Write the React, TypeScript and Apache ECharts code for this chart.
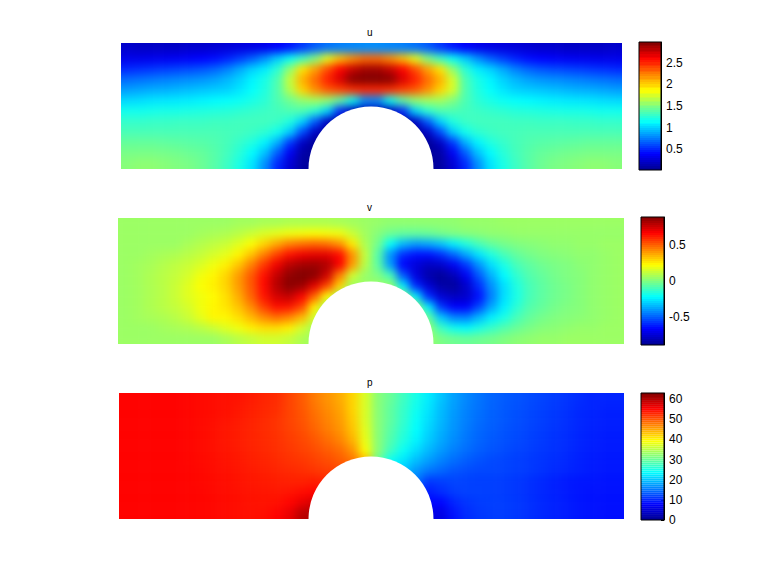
import React, { useEffect, useRef } from "react";
import * as echarts from "echarts";

const jetColors = ["#00008f", "#0000ff", "#0080ff", "#00ffff", "#80ff80", "#ffff00", "#ff8000", "#ff0000", "#800000"];

const uTicks = [0.5, 1, 1.5, 2, 2.5];
const vTicks = [-0.5, 0, 0.5];
const pTicks = [0, 10, 20, 30, 40, 50, 60];
const uRange = [0.02, 2.98];
const vRange = [-0.9, 0.9];
const pRange = [0, 63];

const uValues = [
  [.22,.2,.2,.2,.2,.22,.22,.24,.26,.28,.3,.33,.38,.45,.55,.65,.72,.76,.78,.8,.8,.78,.76,.72,.65,.55,.45,.38,.33,.3,.28,.26,.24,.22,.22,.2,.2,.2,.2,.22],
  [.32,.32,.33,.34,.35,.37,.39,.42,.48,.56,.66,.8,.98,1.15,1.3,1.5,1.8,2.05,2.2,2.3,2.3,2.2,2.05,1.8,1.5,1.3,1.15,.98,.8,.66,.56,.48,.42,.39,.37,.35,.34,.33,.32,.32],
  [.5,.52,.54,.56,.58,.6,.63,.68,.76,.88,1,1.08,1.25,1.55,1.95,2.15,2.4,2.62,2.78,2.88,2.88,2.78,2.62,2.4,2.15,1.95,1.55,1.25,1.08,1,.88,.76,.68,.63,.6,.58,.56,.54,.52,.5],
  [.7,.72,.74,.76,.78,.8,.82,.86,.92,1,1.1,1.2,1.35,1.7,2.1,2.3,2.52,2.72,2.95,3,3,2.95,2.72,2.52,2.3,2.1,1.75,1.35,1.2,1.1,1,.92,.86,.82,.8,.78,.76,.74,.72,.7],
  [.85,.87,.89,.9,.92,.94,.96,.98,1,1.06,1.14,1.22,1.36,1.65,2,2.2,2.35,2.42,2.48,2.5,2.5,2.48,2.42,2.35,2.2,2,1.75,1.36,1.22,1.14,1.06,1,.98,.96,.94,.92,.9,.89,.87,.85],
  [1.02,1.03,1.05,1.06,1.07,1.08,1.1,1.12,1.14,1.16,1.2,1.25,1.35,1.45,1.55,1.6,1.55,1.4,1.15,.8,.8,1.15,1.4,1.55,1.6,1.6,1.5,1.35,1.25,1.2,1.16,1.14,1.12,1.1,1.08,1.07,1.06,1.05,1.03,1.02],
  [1.18,1.18,1.19,1.2,1.2,1.21,1.22,1.23,1.24,1.26,1.28,1.3,1.32,1.35,1.35,1.25,1,.5,.15,.1,.1,.15,.5,1,1.25,1.35,1.35,1.32,1.3,1.28,1.26,1.24,1.23,1.22,1.21,1.2,1.2,1.19,1.18,1.18],
  [1.28,1.28,1.29,1.29,1.3,1.3,1.3,1.31,1.31,1.32,1.32,1.32,1.3,1.22,1,.65,.2,.05,.05,.05,.05,.05,.05,.2,.65,1,1.22,1.3,1.32,1.32,1.32,1.31,1.31,1.3,1.3,1.3,1.29,1.29,1.28,1.28],
  [1.34,1.34,1.34,1.34,1.34,1.34,1.34,1.34,1.33,1.32,1.3,1.26,1.18,.98,.6,.2,.05,.05,.05,.05,.05,.05,.05,.05,.2,.6,.98,1.18,1.26,1.3,1.32,1.33,1.34,1.34,1.34,1.34,1.34,1.34,1.34,1.34],
  [1.42,1.42,1.42,1.41,1.4,1.39,1.38,1.36,1.33,1.28,1.22,1.1,.9,.55,.2,.05,.05,.05,.05,.05,.05,.05,.05,.05,.05,.2,.55,.9,1.1,1.22,1.28,1.33,1.36,1.38,1.39,1.4,1.41,1.42,1.42,1.42],
  [1.48,1.48,1.48,1.47,1.46,1.44,1.42,1.38,1.32,1.24,1.12,.95,.65,.35,.1,.05,.05,.05,.05,.05,.05,.05,.05,.05,.05,.1,.35,.65,.95,1.12,1.24,1.32,1.38,1.42,1.44,1.46,1.47,1.48,1.48,1.48],
  [1.52,1.54,1.54,1.52,1.5,1.48,1.44,1.38,1.3,1.2,1.05,.8,.5,.25,.08,.05,.05,.05,.05,.05,.05,.05,.05,.05,.05,.08,.25,.5,.8,1.05,1.2,1.3,1.38,1.44,1.48,1.5,1.52,1.54,1.54,1.52],
];

const vValues = [
  [.05,.05,.05,.05,.05,.05,.05,.05,.05,.06,.06,.07,.07,.08,.08,.08,.08,.07,.06,.05,.04,.03,.03,.03,.03,.03,.03,.04,.04,.04,.05,.05,.05,.05,.05,.05,.05,.05,.05,.05],
  [.05,.05,.05,.05,.05,.05,.06,.07,.08,.1,.13,.16,.18,.2,.21,.22,.21,.2,.13,.06,.01,-.03,-.05,-.05,-.04,-.02,0,.01,.02,.03,.03,.04,.04,.04,.04,.04,.04,.04,.04,.04],
  [.05,.05,.05,.05,.05,.07,.09,.11,.13,.17,.22,.3,.38,.45,.48,.5,.48,.42,.26,.08,-.02,-.22,-.35,-.4,-.38,-.33,-.25,-.17,-.1,-.05,-.02,0,.01,.02,.03,.03,.04,.04,.05,.05],
  [.05,.05,.06,.07,.08,.1,.12,.15,.18,.24,.33,.45,.56,.65,.7,.72,.72,.66,.42,.12,-.07,-.42,-.6,-.65,-.65,-.6,-.5,-.38,-.27,-.17,-.1,-.05,-.02,0,.01,.02,.03,.03,.04,.05],
  [.05,.06,.07,.09,.11,.13,.16,.2,.25,.33,.45,.58,.7,.8,.84,.85,.82,.68,.4,.1,-.06,-.4,-.68,-.75,-.8,-.78,-.7,-.58,-.42,-.28,-.18,-.1,-.06,-.03,-.01,0,.02,.03,.04,.05],
  [.05,.06,.08,.1,.12,.15,.2,.24,.3,.4,.52,.65,.78,.87,.9,.88,.76,.45,.14,.04,0,-.1,-.52,-.74,-.84,-.88,-.82,-.7,-.52,-.36,-.23,-.14,-.08,-.05,-.02,0,.01,.03,.04,.05],
  [.05,.06,.08,.1,.13,.17,.22,.25,.3,.4,.52,.66,.8,.88,.85,.72,.55,.3,.05,.05,.05,.05,-.25,-.6,-.76,-.85,-.87,-.78,-.6,-.42,-.28,-.17,-.1,-.06,-.03,-.01,.01,.03,.04,.05],
  [.05,.06,.08,.1,.13,.17,.2,.23,.28,.37,.5,.64,.75,.78,.68,.5,.22,.05,.05,.05,.05,.05,.05,-.25,-.6,-.76,-.8,-.78,-.65,-.45,-.28,-.18,-.1,-.06,-.03,-.01,.01,.03,.04,.05],
  [.05,.06,.08,.1,.12,.15,.2,.24,.27,.33,.43,.56,.65,.64,.55,.25,.05,.05,.05,.05,.05,.05,.05,.05,-.25,-.58,-.68,-.68,-.55,-.38,-.25,-.15,-.08,-.05,-.02,0,.01,.03,.04,.05],
  [.05,.06,.07,.08,.1,.13,.18,.24,.24,.28,.35,.43,.48,.44,.35,.15,.05,.05,.05,.05,.05,.05,.05,.05,-.05,-.32,-.44,-.45,-.35,-.25,-.18,-.1,-.05,-.02,0,.01,.02,.03,.04,.05],
  [.05,.05,.05,.06,.07,.08,.1,.13,.17,.2,.25,.28,.28,.25,.15,.06,.05,.05,.05,.05,.05,.05,.05,.05,.04,-.12,-.2,-.23,-.18,-.13,-.08,-.04,-.01,.01,.02,.03,.04,.04,.05,.05],
  [.05,.05,.05,.05,.05,.05,.05,.05,.07,.1,.12,.14,.14,.12,.08,.05,.05,.05,.05,.05,.05,.05,.05,.05,.04,-.01,-.03,-.04,-.03,-.02,0,.02,.03,.04,.04,.05,.05,.05,.05,.05],
];

const pValues = [
  [55,55,55,55,55,54.8,54.6,54.4,54.2,54,53.5,53,52.5,51,49.5,47.5,46,44.5,42,37,32,30,27.5,25,22.5,20,17.8,16.2,15,14,13.5,13,12.5,12,11.5,11,10.5,10,10,10],
  [55,55,55,55,55,54.8,54.6,54.4,54.2,53.8,53.3,52.8,52.3,51,49.8,48,46.5,45,42,37,32,29.5,27,24.5,22,19.5,17.5,15.9,14.8,13.9,13.3,12.8,12.3,11.8,11.3,10.8,10.3,10,9.8,9.8],
  [55,55,55,55,55,54.8,54.6,54.3,54,53.6,53.1,52.6,52,51,50,48.5,47,45.5,42.5,37,32,29.5,26.8,24,21.6,19.2,17.2,15.7,14.6,13.8,13.2,12.7,12.2,11.7,11.2,10.7,10.2,9.9,9.7,9.7],
  [55,55,55,55,55,54.8,54.5,54.2,53.8,53.4,53,52.5,52,51.2,50.3,49,47.5,46,43,37.5,32,29,26.3,23.6,21,18.8,16.9,15.4,14.3,13.6,13,12.5,12,11.5,11,10.6,10.1,9.8,9.6,9.6],
  [55,55,55,55,55,54.8,54.5,54.2,53.8,53.4,53,52.6,52.2,51.5,50.8,49.8,48.5,47,44,38,32,28.5,25.6,23,20.4,18.2,16.5,15.1,14,13.3,12.8,12.3,11.8,11.4,10.9,10.5,10,9.7,9.5,9.5],
  [55,55,55,55,55,54.8,54.5,54.2,53.9,53.5,53.1,52.7,52.3,51.8,51.2,50.5,49.5,48.5,46,39,32,27.5,24.2,21.5,19.2,17.3,15.7,14.5,13.6,13,12.5,12,11.6,11.2,10.8,10.4,9.9,9.6,9.4,9.4],
  [55,55,55,55,55,54.8,54.6,54.3,54,53.7,53.3,53,52.6,52.2,51.8,51.2,50.5,49.5,48,44,30,24,22,19.5,17.5,15.8,14.5,13.5,12.8,12.3,12,11.7,11.3,11,10.6,10.2,9.8,9.5,9.3,9.3],
  [55,55,55,55,55,54.9,54.7,54.4,54.2,53.9,53.6,53.3,53,52.7,52.4,52,51.5,51,50,45,30,22,20,17,15,14,13,12.5,12.2,12.2,12,11.7,11.3,10.9,10.4,10,9.7,9.4,9.2,9.2],
  [55,55,55,55,55,54.9,54.7,54.5,54.3,54,53.8,53.6,53.4,53.2,53.2,53.5,53,53,53,53,20,20,20,15,11,11.5,12,11.8,11.7,11.7,11.5,11.2,10.7,10.2,9.7,9.3,9.1,9.1,9,9],
  [55,55,55,55,55,54.9,54.8,54.6,54.4,54.2,54,53.9,53.8,54,54.5,55,55,55,55,55,10,10,10,10,9.5,10.5,11.5,11.8,11.8,11.7,11.5,11.2,10.7,10.2,9.8,9.4,9.1,8.9,8.9,8.9],
  [55,55,55,55,55,54.9,54.8,54.7,54.5,54.3,54.1,54,54.2,55,56.5,58,58,58,58,58,8,8,8,8,8,8,10,11,11.5,11.7,11.6,11.3,10.8,10.3,9.9,9.5,9.1,8.9,8.8,8.8],
  [55,55,55,55,55,54.9,54.8,54.7,54.5,54.3,54.2,54.3,55,56.5,59.5,60,60,60,60,60,6,6,6,6,6,6,9,10.5,11.2,11.5,11.5,11.2,10.7,10.2,9.8,9.5,9.1,8.9,8.7,8.7],
];

const fieldLayout = [
  { key: "u", left: 121, top: 43, width: 501, height: 126, barLeft: 639, barTop: 42, barWidth: 22, barHeight: 128, cy: 169 },
  { key: "v", left: 118, top: 218, width: 506, height: 126, barLeft: 641, barTop: 217, barWidth: 23, barHeight: 128, cy: 344 },
  { key: "p", left: 119, top: 393, width: 505, height: 126, barLeft: 641, barTop: 393, barWidth: 23, barHeight: 127, cy: 519 },
];
const cylinderCx = 371;
const cylinderR = 62.5;
const colorLevels = 64;
const font = "Liberation Sans";
const fieldBlur = 4.5;
const edgeCells = 2;

const fields = [uValues, vValues, pValues];
const ranges = [uRange, vRange, pRange];
const ticks = [uTicks, vTicks, pTicks];

// Each field sits in a clipping box; rows and columns are repeated past the clip so that softening has no white fringe.
function padded(rows: number[][]) {
  const wide = rows.map((r) => [
    ...Array(edgeCells).fill(r[0]),
    ...r,
    ...Array(edgeCells).fill(r[r.length - 1]),
  ]);
  return [...Array(edgeCells).fill(wide[0]), ...wide, ...Array(edgeCells).fill(wide[wide.length - 1])] as number[][];
}

function Field({ index }: { index: number }) {
  const ref = useRef<HTMLDivElement>(null);
  const f = fieldLayout[index];
  const rows = fields[index];
  const cw = f.width / rows[0].length;
  const ch = f.height / rows.length;
  useEffect(() => {
    const chart = echarts.init(ref.current!, undefined, { renderer: "svg" });
    const all = padded(rows);
    const cells: number[][] = [];
    all.forEach((r, y) => r.forEach((val, x) => cells.push([x, y, val])));
    chart.setOption({
      animation: false,
      grid: { left: 0, right: 0, top: 0, bottom: 0, show: false },
      xAxis: { type: "category", show: false, data: all[0].map((_, i) => i) },
      yAxis: { type: "category", show: false, inverse: true, data: all.map((_, i) => i) },
      visualMap: { show: false, type: "continuous", dimension: 2, min: ranges[index][0], max: ranges[index][1], inRange: { color: jetColors } },
      series: [{ type: "heatmap", data: cells, progressive: 0, emphasis: { disabled: true }, itemStyle: { borderWidth: 0 } }],
    });
    return () => chart.dispose();
  }, []);
  return (
    <div style={{ position: "absolute", left: f.left, top: f.top, width: f.width, height: f.height, overflow: "hidden" }}>
      <div
        ref={ref}
        style={{
          position: "absolute",
          left: -edgeCells * cw,
          top: -edgeCells * ch,
          width: f.width + 2 * edgeCells * cw,
          height: f.height + 2 * edgeCells * ch,
          filter: `blur(${fieldBlur}px)`,
        }}
      />
    </div>
  );
}

export default function App() {
  const ref = useRef<HTMLDivElement>(null);
  useEffect(() => {
    const chart = echarts.init(ref.current!, undefined, { renderer: "svg" });
    const grid: any[] = [];
    const xAxis: any[] = [];
    const yAxis: any[] = [];
    const series: any[] = [];
    const visualMap: any[] = [];
    const title: any[] = [];
    const graphic: any[] = [];

    fieldLayout.forEach((f, k) => {
      const [lo, hi] = ranges[k];
      grid.push({ left: f.barLeft, top: f.barTop, width: f.barWidth, height: f.barHeight, show: false });
      xAxis.push({ type: "value", gridIndex: k, show: false, min: 0, max: 1 });
      yAxis.push({
        type: "value", gridIndex: k, position: "right", min: lo, max: hi,
        splitLine: { show: false },
        axisLine: { show: true, onZero: false, lineStyle: { color: "#000", width: 1 } },
        axisTick: { show: true, inside: true, length: 3, customValues: ticks[k], lineStyle: { color: "#000" } },
        axisLabel: { show: true, customValues: ticks[k], color: "#000", fontSize: 12, fontFamily: font, margin: 5, showMinLabel: true, showMaxLabel: true },
      });
      const step = (hi - lo) / colorLevels;
      const levels = Array.from({ length: colorLevels }, (_, i) => [0, lo + step * (i + 0.5), lo + step * i, lo + step * (i + 1)]);
      series.push({
        type: "custom", xAxisIndex: k, yAxisIndex: k, data: levels,
        encode: { x: 0, y: 1 }, silent: true,
        renderItem: (_p: any, api: any) => {
          const a = api.coord([0, api.value(3)]);
          const b = api.coord([1, api.value(2)]);
          return { type: "rect", shape: { x: a[0], y: a[1], width: b[0] - a[0], height: Math.ceil(b[1] - a[1]) }, style: { fill: api.visual("color") } };
        },
      });
      visualMap.push({ show: false, type: "continuous", seriesIndex: k, dimension: 1, min: lo, max: hi, inRange: { color: jetColors } });

      title.push({
        text: f.key, left: cylinderCx - 4, top: f.top - 16,
        textStyle: { fontSize: 10, fontWeight: "normal", color: "#000", fontFamily: font },
        padding: 0,
      });
      graphic.push({
        type: "sector", z: 100,
        shape: { cx: cylinderCx, cy: f.cy, r: cylinderR, r0: 0, startAngle: Math.PI, endAngle: 2 * Math.PI },
        style: { fill: "#fff" },
      });
      graphic.push({
        type: "rect", z: 100,
        shape: { x: f.barLeft, y: f.barTop, width: f.barWidth, height: f.barHeight },
        style: { fill: "none", stroke: "#000", lineWidth: 1 },
      });
    });

    chart.setOption({ animation: false, backgroundColor: "transparent", title, grid, xAxis, yAxis, series, visualMap, graphic });
    return () => chart.dispose();
  }, []);
  return (
    <div style={{ position: "absolute", left: 0, top: 0, width: 769, height: 583, background: "#fff" }}>
      {fieldLayout.map((_, i) => <Field key={i} index={i} />)}
      <div ref={ref} style={{ position: "absolute", left: 0, top: 0, width: 769, height: 583 }} />
    </div>
  );
}
